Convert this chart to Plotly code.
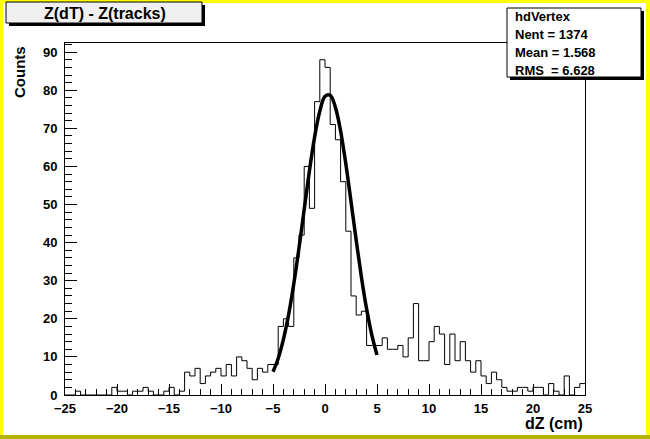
import plotly.graph_objects as go

# histogram hdVertex: 100 bins from -25 to 25 cm
x_lo, x_hi = -25.0, 25.0
counts = [
    0, 0, 1, 0, 0, 0, 0, 0, 0, 2,
    1, 1, 0, 1, 1, 2, 1, 0, 0, 1,
    2, 0, 1, 6, 5, 7, 3, 5, 6, 7,
    5, 8, 5, 10, 9, 7, 4, 7, 6, 8,
    8, 18, 20, 18, 36, 42, 60, 49, 77, 88,
    86, 71, 67, 56, 43, 26, 21, 22, 13, 13,
    13, 15, 12, 12, 13, 10, 15, 24, 9, 9,
    14, 18, 16, 8, 16, 9, 14, 9, 6, 9,
    5, 3, 6, 4, 2, 1, 1, 2, 2, 1,
    2, 2, 0, 3, 1, 0, 5, 0, 2, 3,
]

# gaussian fit curve
fit_x = [-5, -4.5, -4, -3.5, -3, -2.5, -2, -1.5, -1, -0.5, 0,
         0.5, 1, 1.5, 2, 2.5, 3, 3.5, 4, 4.5, 5]
fit_y = [6.1, 9.6, 14.6, 21.1, 29.2, 38.6, 48.7, 58.8, 67.7, 74.5, 78.4,
         78.7, 75.5, 69.3, 60.7, 50.8, 40.6, 31.0, 22.6, 15.8, 10.5]

title_text = "Z(dT) - Z(tracks)"
stats_lines = ["hdVertex", "Nent = 1374", "Mean = 1.568", "RMS\u00a0\u00a0= 6.628"]
x_title = "dZ (cm)"
y_title = "Counts"

n_bins = len(counts)
width = (x_hi - x_lo) / n_bins
edges = [x_lo + i * width for i in range(n_bins + 1)]
y_max = 1.05 * max(counts)

W, H = 650, 439
L, R, T, B = 65, 65, 43, 44
pw, ph = W - L - R, H - T - B


def px(x):
    return (x - L) / pw


def py(y):
    return (H - B - y) / ph


fig = go.Figure()

# histogram as a step line
fig.add_trace(go.Scatter(
    x=edges, y=counts + [counts[-1]],
    mode="lines", line=dict(color="black", width=1, shape="hv"),
    hoverinfo="skip", showlegend=False,
))

# fit
fig.add_trace(go.Scatter(
    x=fit_x, y=fit_y, mode="lines",
    line=dict(color="black", width=3.5, shape="spline"),
    showlegend=False,
))

fam = "Liberation Sans, Arial, sans-serif"
font = dict(family=fam, color="black", size=13, weight="bold")

fig.update_layout(
    width=W, height=H,
    margin=dict(l=L, r=R, t=T, b=B, autoexpand=False),
    paper_bgcolor="white", plot_bgcolor="white",
    font=font,
    xaxis=dict(
        range=[x_lo, x_hi], showgrid=False, zeroline=False,
        showline=True, linecolor="black", linewidth=1, mirror=True,
        tickmode="linear", tick0=-25, dtick=5,
        ticks="inside", ticklen=11, tickcolor="black", tickwidth=1,
        minor=dict(dtick=1, ticks="inside", ticklen=6, tickcolor="black"),
        tickfont=font, ticklabelstandoff=1,
    ),
    yaxis=dict(
        range=[0, y_max], showgrid=False, zeroline=False,
        showline=True, linecolor="black", linewidth=1, mirror=True,
        tickmode="linear", tick0=0, dtick=10,
        ticks="inside", ticklen=12, tickcolor="black", tickwidth=1,
        minor=dict(dtick=2, ticks="inside", ticklen=7, tickcolor="black"),
        tickfont=font, ticklabelstandoff=4,
    ),
)

shapes = []
# canvas border
shapes.append(dict(type="rect", xref="paper", yref="paper", x0=px(0), x1=px(3), y0=py(H), y1=py(0),
                   fillcolor="#ffff00", line_width=0, layer="above"))
shapes.append(dict(type="rect", xref="paper", yref="paper", x0=px(0), x1=px(W), y0=py(3), y1=py(0),
                   fillcolor="#ffff00", line_width=0, layer="above"))
shapes.append(dict(type="rect", xref="paper", yref="paper", x0=px(646), x1=px(W), y0=py(H), y1=py(0),
                   fillcolor="#ffff00", line_width=0, layer="above"))
shapes.append(dict(type="rect", xref="paper", yref="paper", x0=px(0), x1=px(W), y0=py(H), y1=py(435),
                   fillcolor="#b4b400", line_width=0, layer="above"))

# title box with shadow
shapes.append(dict(type="rect", xref="paper", yref="paper", x0=px(9), x1=px(205), y0=py(26), y1=py(5),
                   fillcolor="black", line_width=0, layer="above"))
shapes.append(dict(type="rect", xref="paper", yref="paper", x0=px(6), x1=px(202), y0=py(23), y1=py(2),
                   fillcolor="#f0f0f0", line=dict(color="black", width=1), layer="above"))

# stats box with shadow
shapes.append(dict(type="rect", xref="paper", yref="paper", x0=px(510), x1=px(644), y0=py(80), y1=py(11),
                   fillcolor="black", line_width=0, layer="above"))
shapes.append(dict(type="rect", xref="paper", yref="paper", x0=px(507), x1=px(641), y0=py(77), y1=py(8),
                   fillcolor="white", line=dict(color="black", width=1), layer="above"))
fig.update_layout(shapes=shapes)

ann = []
ann.append(dict(text=title_text, xref="paper", yref="paper", x=px(105), y=py(13.5),
                xanchor="center", yanchor="middle", showarrow=False,
                font=dict(family=fam, size=16, color="black", weight="bold")))
for i, line in enumerate(stats_lines):
    ann.append(dict(text=line, xref="paper", yref="paper", x=px(513), y=py(16.5 + i * 18),
                    xanchor="left", yanchor="middle", showarrow=False,
                    font=dict(family=fam, size=13, color="black", weight="bold")))
ann.append(dict(text=y_title, xref="paper", yref="paper", x=px(19), y=py(72), textangle=-90,
                xanchor="center", yanchor="middle", showarrow=False,
                font=dict(family=fam, size=15, color="black", weight="bold")))
ann.append(dict(text=x_title, xref="paper", yref="paper", x=px(585), y=py(423),
                xanchor="right", yanchor="middle", showarrow=False,
                font=dict(family=fam, size=16, color="black", weight="bold")))
fig.update_layout(annotations=ann)

fig.write_html("out.html", config={"displayModeBar": False},
               post_script="document.body.style.margin='0';")
